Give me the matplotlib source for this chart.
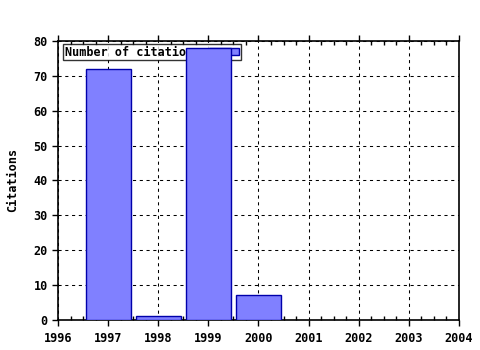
import matplotlib
matplotlib.use('Agg')
import matplotlib.pyplot as plt
from matplotlib.ticker import MultipleLocator

# data
years = [1997, 1998, 1999, 2000]
citations = [72, 1, 78, 7]

plt.rcParams['font.family'] = 'DejaVu Sans Mono'
plt.rcParams['font.weight'] = 'bold'
plt.rcParams['font.size'] = 8.5

fig = plt.figure(figsize=(4.8, 3.5), dpi=100)
ax = fig.add_axes([0.121, 0.086, 0.835, 0.797])

ax.bar(years, citations, width=0.9, color='#8080ff', edgecolor='#0000aa',
       linewidth=1, zorder=3, label='Number of citations')

ax.set_xlim(1996, 2004)
ax.set_ylim(0, 80)
ax.xaxis.set_major_locator(MultipleLocator(1))
ax.yaxis.set_major_locator(MultipleLocator(10))
ax.xaxis.set_minor_locator(MultipleLocator(0.25))

# major ticks point out, x minor ticks point in (top and bottom)
ax.tick_params(axis='x', which='major', direction='out', length=4, width=1,
               top=True, bottom=True, labeltop=False)
ax.tick_params(axis='x', which='minor', direction='in', length=3, width=1,
               top=True, bottom=True)
ax.tick_params(axis='y', which='major', direction='out', length=4, width=1,
               left=True, right=False)
ax.tick_params(axis='x', pad=5)

ax.grid(True, which='major', color='black', linestyle=(0, (3, 3.5)),
        linewidth=0.75, zorder=0)
ax.set_axisbelow(True)
for s in ax.spines.values():
    s.set_linewidth(1.2)

ax.set_ylabel('Citations', fontweight='bold', labelpad=10)

leg = ax.legend(loc='upper left', bbox_to_anchor=(0.013, 0.99),
                markerfirst=False, frameon=True, fancybox=False, fontsize=8.5,
                borderpad=0.15, handlelength=2.5, handleheight=0.6,
                borderaxespad=0, handletextpad=0.75)
leg.get_frame().set_edgecolor('black')
leg.get_frame().set_linewidth(1)
leg.set_zorder(2)

fig.savefig('out.png', dpi=100)
